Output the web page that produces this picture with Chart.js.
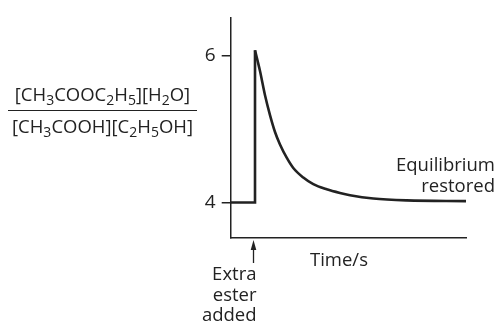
<!DOCTYPE html>
<html>
<head>
<meta charset="utf-8">
<script src="https://cdn.jsdelivr.net/npm/chart.js@4/dist/chart.umd.min.js"></script>
<style>
  body { margin: 0; background: #fff; }
  #wrap { position: relative; width: 499px; height: 323px; }
  #chart { position: absolute; left: 0; top: 0; }
  .frac { position: absolute; left: 8px; top: 82px; width: 189px; text-align: center; white-space: nowrap;
          font-family: "Open Sans", sans-serif; font-size: 18.5px; color: #222; line-height: 24px; }
  .frac .num { border-bottom: 1.4px solid #222; padding-bottom: 4px; }
  .frac .den { padding-top: 3px; }
  .frac sub { font-size: 14px; vertical-align: -4px; line-height: 0; }
</style>
</head>
<body>
<div id="wrap">
  <canvas id="chart" width="499" height="323"></canvas>
  <div class="frac">
    <div class="num">[CH<sub>3</sub>COOC<sub>2</sub>H<sub>5</sub>][H<sub>2</sub>O]</div>
    <div class="den">[CH<sub>3</sub>COOH][C<sub>2</sub>H<sub>5</sub>OH]</div>
  </div>
</div>
<script>
// step: equilibrium level, then extra ester added
const stepTime = [0, 10.33, 10.33];
const stepValue = [4, 4, 6.07];
// decay back to equilibrium
const decayTime = [10.33, 12.45, 14.58, 16.7, 18.83, 20.95, 23.8, 26.6, 30.85, 35.1, 40.8, 46.45, 50.7, 60.6, 74.8, 100];
const decayValue = [6.07, 5.79, 5.46, 5.19, 4.96, 4.79, 4.61, 4.47, 4.34, 4.25, 4.18, 4.13, 4.10, 4.055, 4.03, 4.02];
const yTickValues = [4, 6];
const jumpTime = 10.33;

const ink = '#222';
const font = '"Open Sans", sans-serif';

function toPoints(xs, ys) {
    var pts = [];
    for (var i = 0; i < xs.length; i++) pts.push({ x: xs[i], y: ys[i] });
    return pts;
}

// arrow and notes below / right of the plot
const notes = {
    id: 'notes',
    afterDraw(chart) {
        const ctx = chart.ctx;
        const xs = chart.scales.x;
        const ax = xs.getPixelForValue(jumpTime) - 1.5;
        ctx.save();
        ctx.strokeStyle = ink;
        ctx.fillStyle = ink;
        ctx.lineWidth = 1.3;
        ctx.beginPath();
        ctx.moveTo(ax, 263);
        ctx.lineTo(ax, 247);
        ctx.stroke();
        ctx.beginPath();
        ctx.moveTo(ax, 240);
        ctx.lineTo(ax - 2.8, 250);
        ctx.lineTo(ax + 2.8, 250);
        ctx.closePath();
        ctx.fill();

        ctx.font = '18.5px ' + font;
        ctx.textBaseline = 'alphabetic';
        ctx.textAlign = 'right';
        ctx.fillText('Extra', ax + 3, 280);
        ctx.fillText('ester', ax + 3, 301);
        ctx.fillText('added', ax + 3, 321);
        ctx.fillText('Equilibrium', 495, 171);
        ctx.fillText('restored', 495, 192);
        ctx.textAlign = 'left';
        ctx.fillText('Time/s', 310, 266);
        ctx.restore();
    }
};

new Chart(document.getElementById('chart'), {
    type: 'line',
    data: {
        datasets: [{
            data: toPoints(stepTime, stepValue),
            borderColor: ink,
            borderWidth: 2.6,
            pointRadius: 0,
            tension: 0,
            clip: false
        }, {
            data: toPoints(decayTime, decayValue),
            borderColor: ink,
            borderWidth: 2.6,
            pointRadius: 0,
            cubicInterpolationMode: 'monotone',
            clip: false
        }]
    },
    options: {
        responsive: false,
        animation: false,
        layout: { padding: { left: 190.7, right: 33, top: 14, bottom: 0 } },
        plugins: { legend: { display: false }, tooltip: { enabled: false } },
        scales: {
            x: {
                type: 'linear',
                min: 0,
                max: 100,
                ticks: { display: false },
                grid: { drawOnChartArea: false, drawTicks: false },
                border: { display: true, color: ink, width: 1.5 },
                afterFit: function(scale) { scale.height = 85; }
            },
            y: {
                type: 'linear',
                min: 3.518,
                max: 6.518,
                afterBuildTicks: function(scale) {
                    scale.ticks = yTickValues.map(function(v) { return { value: v }; });
                },
                ticks: { color: ink, font: { family: font, size: 19 }, padding: 6 },
                grid: { drawOnChartArea: false, drawTicks: true, tickLength: 9, color: ink, lineWidth: 1.5 },
                border: { display: true, color: ink, width: 1.5 },
                afterFit: function(scale) { scale.width = 40; }
            }
        }
    },
    plugins: [notes]
});
</script>
</body>
</html>
